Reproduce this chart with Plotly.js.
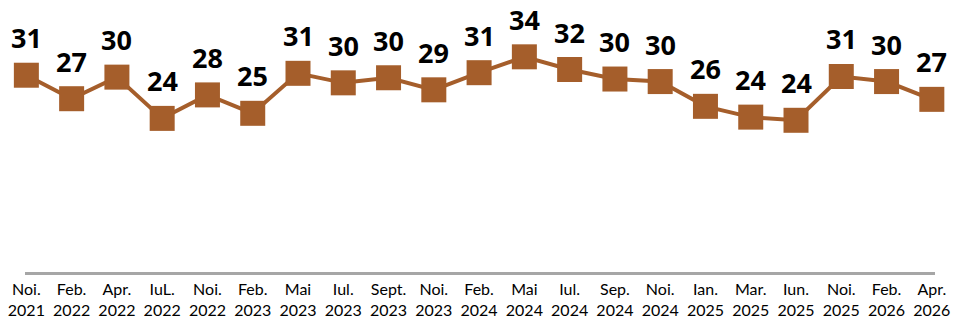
<!DOCTYPE html>
<html>
<head>
<meta charset="utf-8">
<script src="https://cdn.plot.ly/plotly-3.0.1.min.js"></script>
<style>html,body{margin:0;padding:0;background:#fff}#chart{width:953px;height:323px}</style>
</head>
<body>
<div id="chart"></div>
<script>
const categories = ["Noi.<br>2021","Feb.<br>2022","Apr.<br>2022","IuL.<br>2022","Noi.<br>2022","Feb.<br>2023","Mai<br>2023","Iul.<br>2023","Sept.<br>2023","Noi.<br>2023","Feb.<br>2024","Mai<br>2024","Iul.<br>2024","Sep.<br>2024","Noi.<br>2024","Ian.<br>2025","Mar.<br>2025","Iun.<br>2025","Noi.<br>2025","Feb.<br>2026","Apr.<br>2026"];
const values = [31.0,27.3,30.7,24.2,27.9,25.0,31.3,29.8,30.6,28.7,31.4,33.9,31.9,30.4,30.0,26.1,24.4,23.9,30.8,30.0,27.2];
const labels = ["31","27","30","24","28","25","31","30","30","29","31","34","32","30","30","26","24","24","31","30","27"];

const idx = categories.map((c,i)=>i);
const color = "#A55E2B";

const trace = {
  x: idx, y: values, type: "scatter", mode: "lines+markers",
  line: {color: color, width: 4},
  marker: {symbol: "square", size: 25, color: color},
  hoverinfo: "skip", cliponaxis: false
};

const annotations = idx.map(i => ({
  x: i, y: values[i], xref: "x", yref: "y",
  text: labels[i], showarrow: false, yanchor: "bottom", yshift: 17,
  font: {family: "'Open Sans', sans-serif", size: 27, color: "#000", weight: "bold"}
}));

const layout = {
  width: 953, height: 323,
  margin: {l: 25, r: 18, t: 20, b: 51},
  paper_bgcolor: "#fff", plot_bgcolor: "#fff",
  showlegend: false,
  xaxis: {
    range: [-0.03, 20.07], tickvals: idx, ticktext: categories,
    showgrid: false, zeroline: false, showline: true, linecolor: "#A6A6A6", linewidth: 3,
    ticks: "", ticklabelstandoff: 1,
    tickfont: {family: "Lato, 'Open Sans', sans-serif", size: 16, color: "#000", lineposition: "none"}
  },
  yaxis: {range: [0, 39.7], visible: false, showgrid: false, zeroline: false},
  annotations: annotations
};

Plotly.newPlot("chart", [trace], layout, {staticPlot: true, displayModeBar: false});
</script>
</body>
</html>
